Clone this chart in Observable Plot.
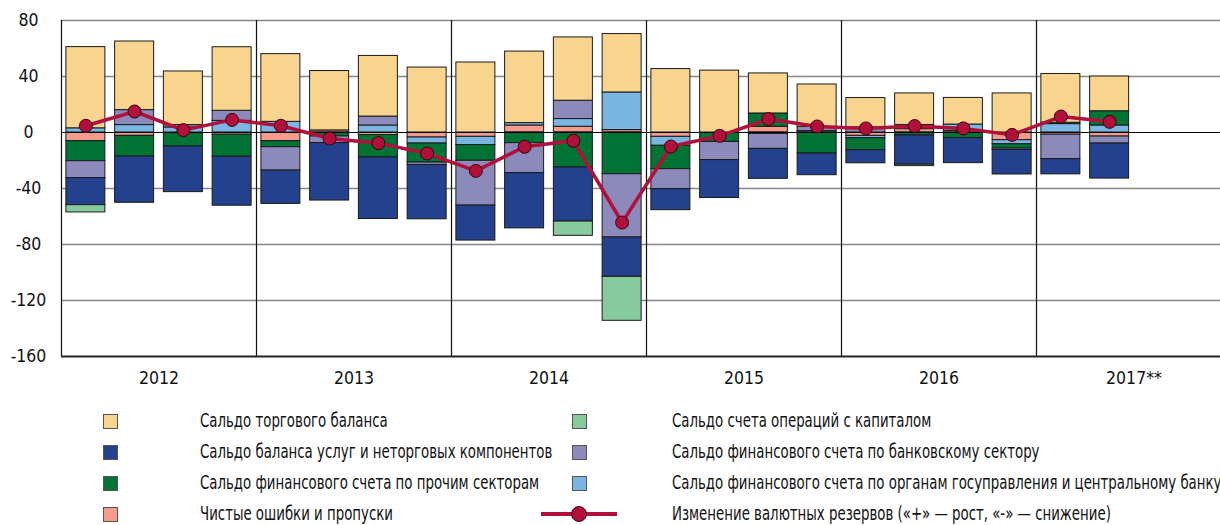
<!DOCTYPE html>
<html><head><meta charset="utf-8">
<script src="https://cdn.jsdelivr.net/npm/d3@7"></script>
<script src="https://cdn.jsdelivr.net/npm/@observablehq/plot@0.6"></script>
<style>
html,body{margin:0;padding:0;background:#fff;width:1220px;height:525px;overflow:hidden;}
#wrap{position:relative;width:1220px;height:525px;overflow:hidden;font-family:"Liberation Sans Narrow","DejaVu Sans Condensed","Arial Narrow",sans-serif;color:#111;}
#chart{position:absolute;left:0;top:0;}
.lg{position:absolute;font-size:19px;line-height:22px;white-space:nowrap;transform:scaleX(0.78);transform-origin:0 50%;}
.sw{position:absolute;width:15px;height:15px;border:1px solid #555;box-sizing:border-box;}
.ln{position:absolute;height:4px;background:#B0103A;}
.dt{position:absolute;width:16px;height:16px;border-radius:50%;background:#B0103A;border:1px solid #3a0010;box-sizing:border-box;}
</style></head><body><div id="wrap"><div id="chart"></div></div>
<script>
// ---- data ----
const years = ["2012", "2013", "2014", "2015", "2016", "2017"];
const yearLabels = ["2012", "2013", "2014", "2015", "2016", "2017**"];
const quarterNames = ["Q1", "Q2", "Q3", "Q4"];
const yTicks = [80, 40, 0, -40, -80, -120, -160];

const nameErrors = "Чистые ошибки и пропуски";
const nameGov = "Сальдо финансового счета по органам госуправления и центральному банку";
const nameOther = "Сальдо финансового счета по прочим секторам";
const nameBank = "Сальдо финансового счета по банковскому сектору";
const nameServices = "Сальдо баланса услуг и неторговых компонентов";
const nameCapital = "Сальдо счета операций с капиталом";
const nameTrade = "Сальдо торгового баланса";
const nameReserves = "Изменение валютных резервов («+» — рост, «-» — снижение)";

// quarterly values, 2012 Q1 … 2017 Q2
const errors   = [-6.2, -2.4, -0.5, -1.6, -6.2, 1.5, -1.8, -3.6, -3.1, 5, 4.1, 1.7, -3.1, 0, 4.1, 0, -2.4, 2.4, 1.2, -5.5, -1.6, -2.9];
const gov      = [3, 5.3, 3.6, 8.3, 7.6, 0, 5, -4.3, -5.9, 1.7, 5.5, 26.9, -6.4, 0, -1, 1, -1.7, 1, 4.5, -2.9, 6, 5];
const other    = [-14.3, -14.8, -9.5, -15.7, -4.3, -2.8, -16, -13.6, -11.2, -7.6, -25, -29.8, -16.7, -6.7, 9.5, -15, -8.6, -2.1, -4, -3.1, 1, 10.2];
const bank     = [-12.1, 10.7, 1.7, 7.2, -16.7, -4.8, 6.4, -1.7, -32, -21.4, 13.1, -45.2, -14.3, -13, -10.7, 3, 3.6, 2, 0, -1, -17.4, -5];
const services = [-19.3, -33, -32.6, -35, -23.8, -41, -44, -38.8, -25, -39.5, -38.6, -28.1, -15, -27.1, -21.4, -15.5, -9.3, -20.9, -17.9, -17.5, -10.9, -25];
const capital  = [-5.2, 0, 0, 0, 0, 0, 0, 0, 0, 0, -10.2, -31.4, 0, 0, 0, 0, 0, -1, 0, 0, 0, 0];
const trade    = [58, 49, 38.3, 45.4, 48.4, 42.4, 43.3, 46.4, 50, 51.1, 45.2, 41.7, 45.3, 44.2, 28.6, 30.3, 21, 22.5, 19, 27.9, 34.8, 24.8];
const reserves = [4.8, 15, 1.7, 9, 4.8, -4.3, -7.6, -15, -27.4, -10.2, -5.9, -64.3, -10, -2.4, 9.6, 4.3, 2.9, 4.6, 2.9, -1.7, 11.4, 7.6];

const colorErrors = "#F59B8B", colorGov = "#7BB6E3", colorOther = "#007335", colorBank = "#8B8ABB",
      colorServices = "#24418E", colorCapital = "#87CA9B", colorTrade = "#F8D48F", colorReserves = "#B0103A";

// ---- derived tables ----
const slots = years.flatMap(y => quarterNames.map(q => y + " " + q));
const observed = slots.slice(0, reserves.length);
const stackSeries = [
  [nameErrors, errors, colorErrors],
  [nameGov, gov, colorGov],
  [nameOther, other, colorOther],
  [nameBank, bank, colorBank],
  [nameServices, services, colorServices],
  [nameCapital, capital, colorCapital],
  [nameTrade, trade, colorTrade]
];
const rows = [];
for (const [name, vals] of stackSeries) vals.forEach((v, i) => { if (v !== 0) rows.push({q: observed[i], series: name, value: v}); });
const reserveRows = reserves.map((v, i) => ({q: observed[i], value: v}));

const FONT = '"Liberation Sans Narrow","DejaVu Sans Condensed","Arial Narrow",sans-serif';
const left = 61, step = 48.75;

const chart = Plot.plot({
  width: 1220, height: 395,
  marginLeft: left, marginRight: 0, marginTop: 20, marginBottom: 39,
  style: {fontFamily: FONT, fontSize: "17.5px", color: "#111", background: "transparent", overflow: "hidden"},
  x: {type: "band", domain: slots, range: [left, left + step * slots.length], round: false, paddingInner: 0.2, paddingOuter: 0.1, axis: null},
  y: {domain: [-160, 80], axis: null},
  color: {domain: stackSeries.map(d => d[0]), range: stackSeries.map(d => d[2])},
  marks: [
    Plot.ruleY([80, 40, -40, -80, -120], {stroke: "#868686", strokeWidth: 1.7}),
    Plot.ruleX(years.map(y => y + " Q1"), {x: d => d, stroke: "#111", strokeWidth: 1.2, dx: -step / 2}),
    Plot.barY(rows, {x: "q", y: "value", fill: "series", stroke: "#1a1a1a", strokeWidth: 1}),
    Plot.ruleY([0], {stroke: "#000", strokeWidth: 1.2}),
    Plot.ruleY([-160], {stroke: "#222", strokeWidth: 2}),
    Plot.line(reserveRows, {x: "q", y: "value", stroke: colorReserves, strokeWidth: 3.5}),
    Plot.dot(reserveRows, {x: "q", y: "value", r: 6.5, fill: colorReserves, stroke: "#3a0010", strokeWidth: 1}),
    Plot.text(yTicks, {y: d => d, frameAnchor: "left", dx: -33, text: d => String(d), textAnchor: "middle", fill: "#111"}),
    Plot.text(yearLabels, {x: (d, i) => years[i] + " Q2", y: () => -160, dy: 22, dx: step / 2, text: d => d, fill: "#111"})
  ]
});
document.getElementById("chart").appendChild(chart);

// ---- legend ----
const wrap = document.getElementById("wrap");
const legendLeft = [[nameTrade, colorTrade], [nameServices, colorServices], [nameOther, colorOther], [nameErrors, colorErrors]];
const legendRight = [[nameCapital, colorCapital], [nameBank, colorBank], [nameGov, colorGov]];
const rowY = [421, 452, 483, 514];
function add(cls, css, text) {
  const el = document.createElement("div");
  el.className = cls;
  Object.assign(el.style, css);
  if (text) el.textContent = text;
  wrap.appendChild(el);
}
legendLeft.forEach(([n, c], i) => {
  add("sw", {left: "103px", top: (rowY[i] - 7) + "px", background: c});
  add("lg", {left: "200px", top: (rowY[i] - 12) + "px"}, n);
});
legendRight.forEach(([n, c], i) => {
  add("sw", {left: "572px", top: (rowY[i] - 7) + "px", background: c});
  add("lg", {left: "672px", top: (rowY[i] - 12) + "px"}, n);
});
add("ln", {left: "541px", width: "76px", top: (rowY[3] - 2) + "px"});
add("dt", {left: "571px", top: (rowY[3] - 8) + "px"});
add("lg", {left: "672px", top: (rowY[3] - 12) + "px"}, nameReserves);
</script></body></html>
